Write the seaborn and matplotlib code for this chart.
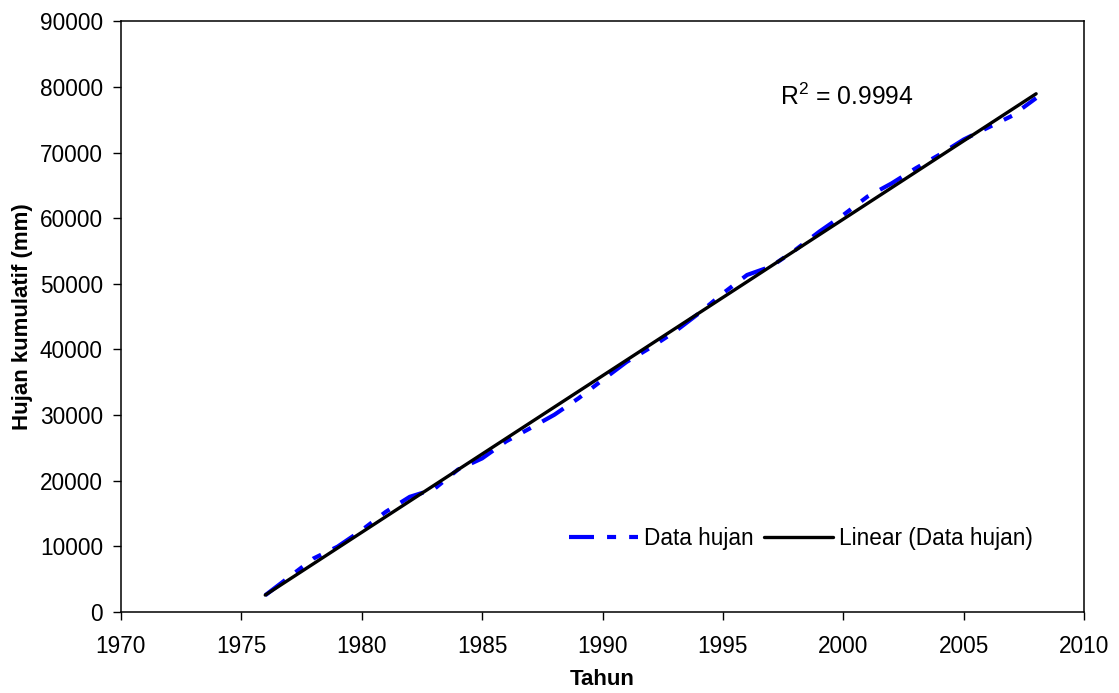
import matplotlib
matplotlib.use("Agg")
import matplotlib.pyplot as plt
import seaborn as sns
import pandas as pd

years = list(range(1976, 2009))
rain_cum = [2550, 5350, 8150, 9950, 12450, 15250, 17550, 18700, 21700, 23400,
            26000, 28000, 30050, 32550, 35350, 38100, 40300, 42700, 45500, 48550,
            51350, 52650, 55150, 57950, 60500, 63300, 65300, 67600, 69700, 72000,
            73800, 75600, 78300]
x_ticks = [1970, 1975, 1980, 1985, 1990, 1995, 2000, 2005, 2010]
y_ticks = [0, 10000, 20000, 30000, 40000, 50000, 60000, 70000, 80000, 90000]
r2_text = "R$^2$ = 0.9994"

sns.set_style("ticks")
plt.rcParams['font.family'] = ['Liberation Sans', 'DejaVu Sans']
plt.rcParams['lines.scale_dashes'] = False
plt.rcParams['mathtext.fontset'] = 'custom'
plt.rcParams['mathtext.rm'] = 'Liberation Sans'
plt.rcParams['text.color'] = 'black'
plt.rcParams['axes.labelcolor'] = 'black'
plt.rcParams['xtick.color'] = 'black'
plt.rcParams['ytick.color'] = 'black'

df = pd.DataFrame({"Tahun": years, "Hujan": rain_cum})

fig = plt.figure(figsize=(11.19, 6.93), dpi=100)
ax = fig.add_axes([120.7/1119, 1-612/693, (1084.3-120.7)/1119, (612-21.3)/693])

sns.lineplot(data=df, x="Tahun", y="Hujan", ax=ax, color="#0000FF", lw=3.0,
             linestyle=(0, (18, 9.4, 6.5, 9.4, 6.5, 9.4)), label="Data hujan")
sns.regplot(data=df, x="Tahun", y="Hujan", ax=ax, scatter=False, ci=None,
            truncate=True, label="Linear (Data hujan)",
            line_kws=dict(color="black", lw=2.4))

ax.set_xlim(1970, 2010)
ax.set_ylim(0, 90000)
ax.set_xticks(x_ticks)
ax.set_yticks(y_ticks)
ax.tick_params(axis='both', labelsize=16.3, length=5.8, width=1.0, color='black',
               labelcolor='black', direction='out')
ax.tick_params(axis='x', pad=11)
ax.tick_params(axis='y', pad=7)
for s in ax.spines.values():
    s.set_visible(True)
    s.set_color('black')
    s.set_linewidth(1.1)

ax.set_xlabel("Tahun", fontsize=16, fontweight='bold', labelpad=8, color='black')
ax.set_ylabel("Hujan kumulatif (mm)", fontsize=16, fontweight='bold', labelpad=5,
              color='black')

ax.text(1997.37, 77250, r2_text, fontsize=17.8, va='baseline', ha='left', color='black')

leg = ax.legend(loc='center', bbox_to_anchor=(801/1119, 1-538/693),
                bbox_transform=fig.transFigure, ncol=2, frameon=False,
                fontsize=16.3, handlelength=3.05, handletextpad=0.25,
                columnspacing=0.45, borderpad=0.2, labelcolor='black')

fig.savefig("out.png", dpi=100, facecolor='white')
